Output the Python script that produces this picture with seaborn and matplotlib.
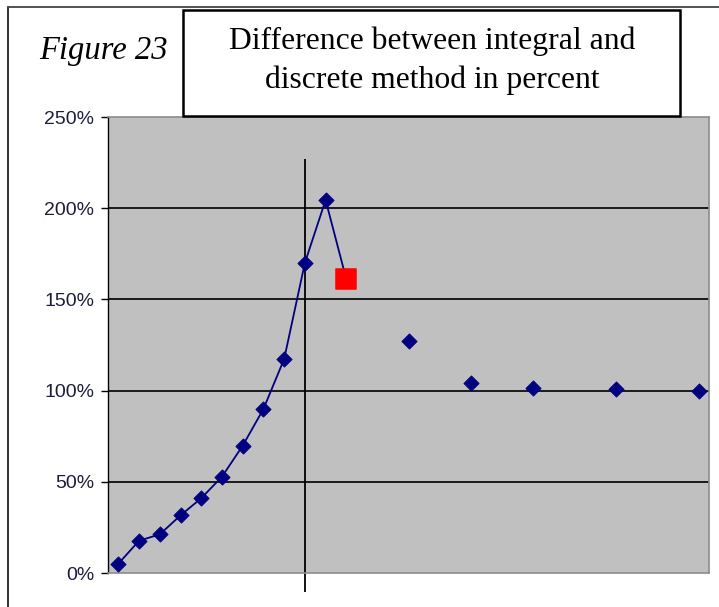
import matplotlib
matplotlib.use("Agg")
import matplotlib.pyplot as plt
from matplotlib.lines import Line2D
from matplotlib.patches import Rectangle
from matplotlib.ticker import FuncFormatter
import seaborn as sns
import pandas as pd

# ---- data (percent) ----
x_line = [1, 2, 3, 4, 5, 6, 7, 8, 9, 10, 11, 12]
y_line = [5.1, 17.7, 21.2, 31.6, 41.0, 52.8, 69.8, 89.9, 117.3, 170.0, 204.5, 161.0]
x_iso = [15, 18, 21, 25, 29]
y_iso = [127.2, 104.3, 101.4, 100.7, 99.8]
y_ticks = [0, 50, 100, 150, 200, 250]
marker_x = 10
title_lines = ["Difference between integral and", "discrete method in percent"]
fig_label = "Figure 23"

sns.set_theme(style="white")
plt.rcParams["font.family"] = ["Liberation Sans", "DejaVu Sans"]

W, H = 719, 607
fig = plt.figure(figsize=(W / 100, H / 100), dpi=100)
fig.patch.set_facecolor("white")

def fx(px):
    return px / W

def fy(py):
    return 1 - py / H

ax = fig.add_axes([fx(108), fy(573), (709 - 108) / W, (573 - 117) / H])
ax.set_facecolor("#c0c0c0")

df_line = pd.DataFrame({"x": x_line, "y": y_line})
df_iso = pd.DataFrame({"x": x_iso, "y": y_iso})

sns.lineplot(data=df_line, x="x", y="y", ax=ax, color="#000080", linewidth=1.3,
             zorder=3)
sns.scatterplot(data=df_line.iloc[:-1], x="x", y="y", ax=ax, marker="D", s=60,
                color="#000080", edgecolor="#000080", zorder=4)
sns.scatterplot(data=df_line.iloc[-1:], x="x", y="y", ax=ax, marker="s", s=200,
                color="#ff0000", edgecolor="#ff0000", zorder=5)
sns.scatterplot(data=df_iso, x="x", y="y", ax=ax, marker="D", s=60,
                color="#000080", edgecolor="#000080", zorder=4)

ax.set_xlim(0.5, 29.5)
ax.set_ylim(0, 250)
ax.set_yticks(y_ticks)
ax.yaxis.set_major_formatter(FuncFormatter(lambda v, p: f"{v:.0f}%"))
ax.set_xticks([])
ax.set_xlabel("")
ax.set_ylabel("")
for yv in y_ticks[1:-1]:
    ax.axhline(yv, color="#1a1a1a", linewidth=1.4, zorder=1)

ax.vlines(marker_x, -10.4, 227, color="#000000", linewidth=1.3, zorder=2,
          clip_on=False)

ax.tick_params(axis="y", which="major", direction="out", length=5, width=1,
               color="#000000", labelsize=14, labelcolor="#1c1c3c", pad=5,
               left=True)
for s in ["top", "right", "bottom"]:
    ax.spines[s].set_color("#8c8c8c")
    ax.spines[s].set_linewidth(1.2)
ax.spines["left"].set_color("#000000")
ax.spines["left"].set_linewidth(1.0)

# outer frame lines
fig.add_artist(Line2D([fx(8), fx(8)], [fy(7), fy(607)], color="#222222",
                      linewidth=1.3, transform=fig.transFigure))
fig.add_artist(Line2D([fx(8), fx(719)], [fy(7), fy(7)], color="#444444",
                      linewidth=1.3, transform=fig.transFigure))

# title box
fig.add_artist(Rectangle((fx(183), fy(116)), (680 - 183) / W, (116 - 10) / H,
                         transform=fig.transFigure, facecolor="white",
                         edgecolor="black", linewidth=1.8))
serif = ["Liberation Serif", "DejaVu Serif"]
fig.text(fx(432), fy(41), title_lines[0], ha="center", va="center",
         fontsize=22.8, family=serif, color="black")
fig.text(fx(432), fy(80), title_lines[1], ha="center", va="center",
         fontsize=22.8, family=serif, color="black")
fig.text(fx(103.5), fy(51), fig_label, ha="center", va="center", fontsize=23.5,
         style="italic", family=serif, color="black")

fig.savefig("out.png", dpi=100)
